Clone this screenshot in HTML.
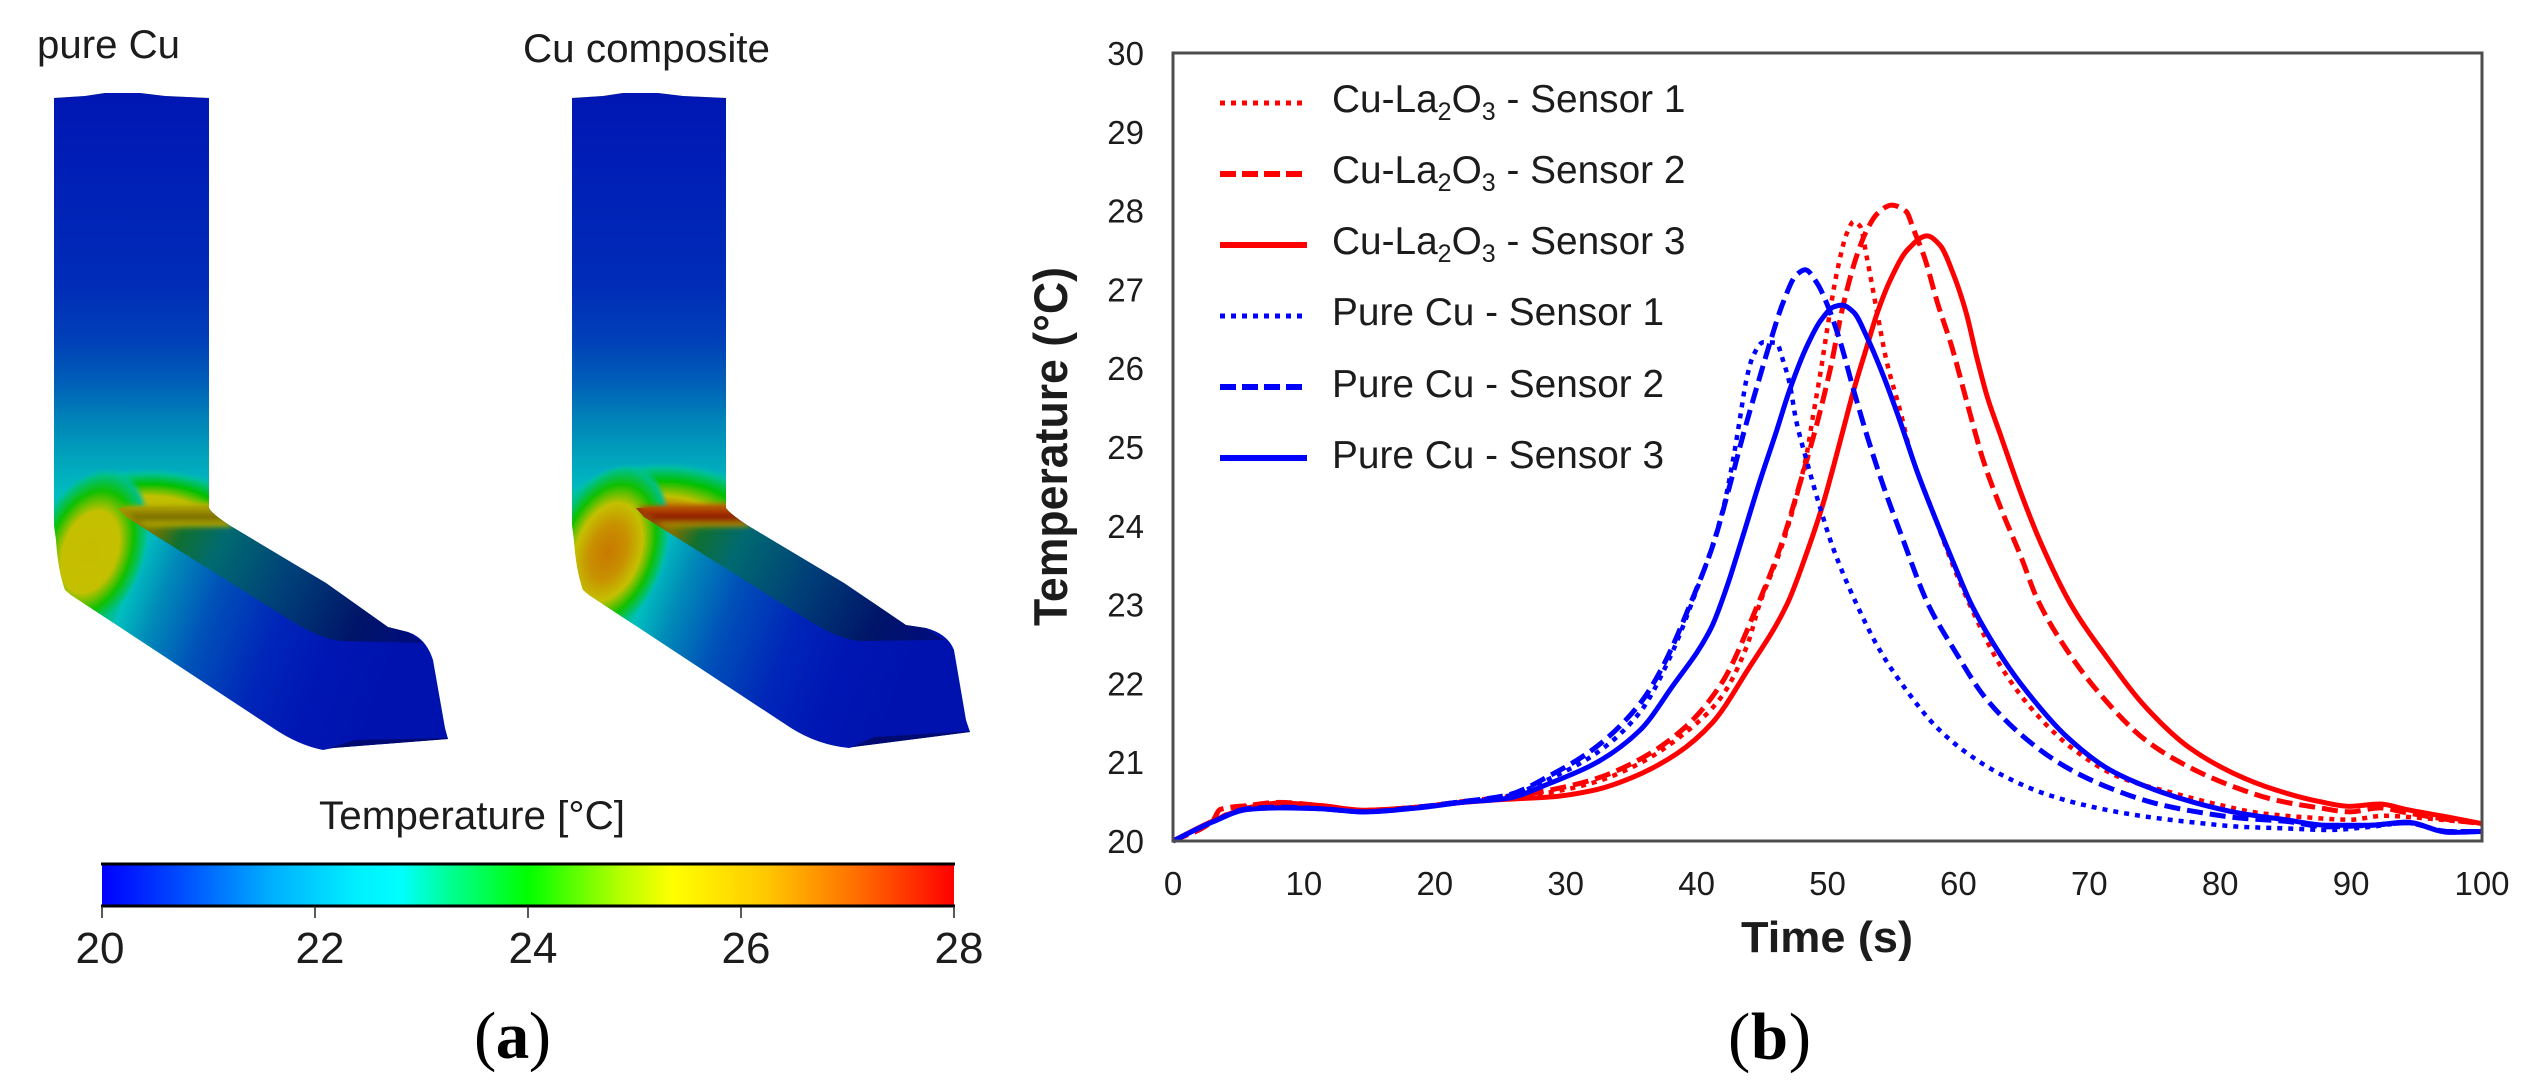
<!DOCTYPE html>
<html lang="en">
<head>
<meta charset="utf-8">
<title>Temperature distribution and sensor curves</title>
<style>
html,body{margin:0;padding:0;background:#fff;}
svg{display:block;}
text{font-family:"Liberation Sans",sans-serif;fill:#1c1c1c;}
.serif{font-family:"Liberation Serif",serif;fill:#000;}
</style>
</head>
<body>
<svg id="figure" xmlns="http://www.w3.org/2000/svg" width="2531" height="1091" viewBox="0 0 2531 1091">
<defs>
  <filter id="soft" x="-10%" y="-30%" width="120%" height="160%"><feGaussianBlur stdDeviation="2"/></filter>
  <linearGradient id="colGrad" gradientUnits="userSpaceOnUse" x1="0" y1="93" x2="0" y2="520">
    <stop offset="0" stop-color="#0016b4"/>
    <stop offset="0.45" stop-color="#002cb8"/>
    <stop offset="0.58" stop-color="#0040b8"/>
    <stop offset="0.68" stop-color="#0060b8"/>
    <stop offset="0.77" stop-color="#0085b8"/>
    <stop offset="0.86" stop-color="#00a5bc"/>
    <stop offset="0.94" stop-color="#00bcc0"/>
    <stop offset="1" stop-color="#00c0a8"/>
  </linearGradient>
  <linearGradient id="armGrad" gradientUnits="userSpaceOnUse" x1="85" y1="555" x2="392" y2="667">
    <stop offset="0" stop-color="#c8c000"/>
    <stop offset="0.06" stop-color="#40c000"/>
    <stop offset="0.11" stop-color="#00c040"/>
    <stop offset="0.16" stop-color="#00bfbf"/>
    <stop offset="0.26" stop-color="#008cb8"/>
    <stop offset="0.42" stop-color="#0050b8"/>
    <stop offset="0.62" stop-color="#0026b8"/>
    <stop offset="0.8" stop-color="#0016b4"/>
    <stop offset="1" stop-color="#0012ae"/>
  </linearGradient>
  <radialGradient id="elbowA" cx="0.5" cy="0.5" r="0.5">
    <stop offset="0" stop-color="#c8bc00"/>
    <stop offset="0.48" stop-color="#c4c000"/>
    <stop offset="0.72" stop-color="#10c000"/>
    <stop offset="0.9" stop-color="#00c080"/>
    <stop offset="1" stop-color="#00c0b8" stop-opacity="0"/>
  </radialGradient>
  <radialGradient id="elbowB" cx="0.5" cy="0.5" r="0.5">
    <stop offset="0" stop-color="#c87800"/>
    <stop offset="0.3" stop-color="#c89000"/>
    <stop offset="0.55" stop-color="#c4c000"/>
    <stop offset="0.76" stop-color="#10c000"/>
    <stop offset="0.92" stop-color="#00c080"/>
    <stop offset="1" stop-color="#00c0b8" stop-opacity="0"/>
  </radialGradient>
  <radialGradient id="domeA" cx="0.5" cy="0.5" r="0.5">
    <stop offset="0" stop-color="#c8b000"/>
    <stop offset="0.55" stop-color="#c0c000"/>
    <stop offset="0.74" stop-color="#00c000"/>
    <stop offset="0.9" stop-color="#00c090"/>
    <stop offset="1" stop-color="#00c0b8" stop-opacity="0"/>
  </radialGradient>
  <radialGradient id="domeB" cx="0.5" cy="0.5" r="0.5">
    <stop offset="0" stop-color="#b02000"/>
    <stop offset="0.28" stop-color="#c06000"/>
    <stop offset="0.5" stop-color="#c0c000"/>
    <stop offset="0.72" stop-color="#00c000"/>
    <stop offset="0.9" stop-color="#00c090"/>
    <stop offset="1" stop-color="#00c0b8" stop-opacity="0"/>
  </radialGradient>
  <linearGradient id="ridgeA" x1="0" y1="0" x2="0" y2="1">
    <stop offset="0" stop-color="#c0bc00"/>
    <stop offset="0.35" stop-color="#948400"/>
    <stop offset="0.55" stop-color="#7a6c00"/>
    <stop offset="0.8" stop-color="#b0a800"/>
    <stop offset="1" stop-color="#809000" stop-opacity="0"/>
  </linearGradient>
  <linearGradient id="ridgeB" x1="0" y1="0" x2="0" y2="1">
    <stop offset="0" stop-color="#c07800"/>
    <stop offset="0.35" stop-color="#a83000"/>
    <stop offset="0.55" stop-color="#8a1c00"/>
    <stop offset="0.8" stop-color="#a88800"/>
    <stop offset="1" stop-color="#809000" stop-opacity="0"/>
  </linearGradient>
  <linearGradient id="topA" gradientUnits="userSpaceOnUse" x1="125" y1="500" x2="420" y2="650">
    <stop offset="0" stop-color="#a89000"/>
    <stop offset="0.12" stop-color="#707400"/>
    <stop offset="0.2" stop-color="#107030"/>
    <stop offset="0.32" stop-color="#006a70"/>
    <stop offset="0.55" stop-color="#003f78"/>
    <stop offset="0.8" stop-color="#001468"/>
    <stop offset="1" stop-color="#000c80"/>
  </linearGradient>
  <linearGradient id="topB" gradientUnits="userSpaceOnUse" x1="125" y1="500" x2="420" y2="650">
    <stop offset="0" stop-color="#a03000"/>
    <stop offset="0.12" stop-color="#807000"/>
    <stop offset="0.2" stop-color="#107030"/>
    <stop offset="0.32" stop-color="#006a70"/>
    <stop offset="0.55" stop-color="#003f78"/>
    <stop offset="0.8" stop-color="#001468"/>
    <stop offset="1" stop-color="#000c80"/>
  </linearGradient>
  <linearGradient id="barGrad" x1="0" y1="0" x2="1" y2="0">
    <stop offset="0" stop-color="#0000ff"/>
    <stop offset="0.08" stop-color="#0040ff"/>
    <stop offset="0.2" stop-color="#00b0ff"/>
    <stop offset="0.3" stop-color="#00f0ff"/>
    <stop offset="0.35" stop-color="#00ffff"/>
    <stop offset="0.41" stop-color="#00ff90"/>
    <stop offset="0.5" stop-color="#00ff00"/>
    <stop offset="0.61" stop-color="#b8ff00"/>
    <stop offset="0.67" stop-color="#ffff00"/>
    <stop offset="0.78" stop-color="#ffc800"/>
    <stop offset="0.89" stop-color="#ff6a00"/>
    <stop offset="1" stop-color="#ff0000"/>
  </linearGradient>
  <clipPath id="colClip"><rect x="54" y="90" width="156" height="430"/></clipPath>
  <clipPath id="shapeClip"><path d="M54 98 L85 96 L105 93 L140 93 L165 96 L209 98 L209 508 Q211 513 229 525 L326 583 L388 627 L408 632 Q426 638 433 660 L445 728 L448 739 L333 748 L323 750 Q298 745 273 728 L71 595 L65 590 Q58 570 56 540 L54 525 Z"/></clipPath>
  <clipPath id="shapeClipB"><path d="M54 98 L85 96 L105 93 L140 93 L165 96 L208 98 L208 508 Q211 513 229 525 L326 583 L388 625 L408 628 Q430 634 436 650 L448 720 L452 732 L335 747 L331 748 Q300 745 273 728 L71 595 L65 590 Q58 570 56 540 L54 525 Z"/></clipPath>
</defs>

<g id="panel-a">
  <text x="37" y="58" font-size="40" textLength="143" lengthAdjust="spacingAndGlyphs">pure Cu</text>
  <text x="523" y="62" font-size="40" textLength="247" lengthAdjust="spacingAndGlyphs">Cu composite</text>

  <g clip-path="url(#shapeClip)">
    <rect x="40" y="85" width="430" height="680" fill="url(#armGrad)"/>
    <rect x="54" y="90" width="156" height="430" fill="url(#colGrad)"/>
    <ellipse cx="150" cy="530" rx="112" ry="62" fill="url(#domeA)" clip-path="url(#colClip)"/>
    <ellipse cx="90" cy="552" rx="56" ry="88" transform="rotate(20 90 552)" fill="url(#elbowA)"/>
    <path d="M118 508 L209 506 L229 525 L326 583 L388 627 L408 632 L424 643 L340 641 Q318 638 290 620 L126 517 Z" fill="url(#topA)"/>
    <path d="M120 506 L209 503 L234 528 L150 530 Z" fill="url(#ridgeA)" filter="url(#soft)"/>
    <path d="M330 748 L355 740 L450 738 L440 752 L330 752 Z" fill="#000a70"/>
  </g>

  <g transform="translate(518 0)" clip-path="url(#shapeClipB)">
    <rect x="40" y="85" width="430" height="680" fill="url(#armGrad)"/>
    <rect x="54" y="90" width="156" height="430" fill="url(#colGrad)"/>
    <ellipse cx="145" cy="530" rx="118" ry="68" fill="url(#domeB)" clip-path="url(#colClip)"/>
    <ellipse cx="90" cy="552" rx="58" ry="92" transform="rotate(20 90 552)" fill="url(#elbowB)"/>
    <path d="M118 508 L209 506 L229 525 L326 583 L388 625 L408 628 L426 640 L340 641 Q318 638 290 620 L126 517 Z" fill="url(#topB)"/>
    <path d="M120 506 L209 503 L234 528 L150 530 Z" fill="url(#ridgeB)" filter="url(#soft)"/>
    <path d="M332 748 L356 737 L456 731 L440 752 L332 752 Z" fill="#000a70"/>
  </g>

  <text x="319" y="829" font-size="40" textLength="306" lengthAdjust="spacingAndGlyphs">Temperature [°C]</text>
  <rect x="102" y="864" width="852" height="42" fill="url(#barGrad)"/>
  <line x1="101" y1="864" x2="955" y2="864" stroke="#000" stroke-width="3"/>
  <line x1="101" y1="906" x2="955" y2="906" stroke="#000" stroke-width="3"/>
  <g id="colorbar-ticks"></g>
  <text class="serif" x="474" y="1058" font-size="67" textLength="77">(<tspan font-weight="bold">a</tspan>)</text>
</g>

<g id="panel-b">
  <g id="y-ticks"></g>
  <g id="x-ticks"></g>
  <text transform="translate(1067 626) rotate(-90)" font-size="47" font-weight="bold" textLength="359" lengthAdjust="spacingAndGlyphs">Temperature (°C)</text>
  <text x="1741" y="952" font-size="44" font-weight="bold" textLength="172" lengthAdjust="spacingAndGlyphs">Time (s)</text>
  <g id="series"></g>
  <rect x="1173" y="53" width="1309" height="788" fill="none" stroke="#4d4d4d" stroke-width="3"/>
  <g id="legend">
    <g>
      <line x1="1220" y1="103" x2="1303" y2="103" stroke="#ff0000" stroke-width="5" stroke-dasharray="5 6"/>
      <text x="1332" y="112" font-size="38.8">Cu-La<tspan dy="8" font-size="25">2</tspan><tspan dy="-8">O</tspan><tspan dy="8" font-size="25">3</tspan><tspan dy="-8"> - Sensor 1</tspan></text>
    </g>
    <g>
      <line x1="1220" y1="174" x2="1303" y2="174" stroke="#ff0000" stroke-width="6" stroke-dasharray="16 6"/>
      <text x="1332" y="183" font-size="38.8">Cu-La<tspan dy="8" font-size="25">2</tspan><tspan dy="-8">O</tspan><tspan dy="8" font-size="25">3</tspan><tspan dy="-8"> - Sensor 2</tspan></text>
    </g>
    <g>
      <line x1="1220" y1="245" x2="1307" y2="245" stroke="#ff0000" stroke-width="6"/>
      <text x="1332" y="254" font-size="38.8">Cu-La<tspan dy="8" font-size="25">2</tspan><tspan dy="-8">O</tspan><tspan dy="8" font-size="25">3</tspan><tspan dy="-8"> - Sensor 3</tspan></text>
    </g>
    <g>
      <line x1="1220" y1="316" x2="1303" y2="316" stroke="#0000ff" stroke-width="5" stroke-dasharray="5 6"/>
      <text x="1332" y="325" font-size="38.8">Pure Cu - Sensor 1</text>
    </g>
    <g>
      <line x1="1220" y1="387" x2="1303" y2="387" stroke="#0000ff" stroke-width="6" stroke-dasharray="16 6"/>
      <text x="1332" y="397" font-size="38.8">Pure Cu - Sensor 2</text>
    </g>
    <g>
      <line x1="1220" y1="458" x2="1307" y2="458" stroke="#0000ff" stroke-width="6"/>
      <text x="1332" y="468" font-size="38.8">Pure Cu - Sensor 3</text>
    </g>
  </g>
  <text class="serif" x="1728" y="1059" font-size="67" textLength="83">(<tspan font-weight="bold">b</tspan>)</text>
</g>
</svg>

<script>
var xTickLabels = [0,10,20,30,40,50,60,70,80,90,100];
var yTickLabels = [20,21,22,23,24,25,26,27,28,29,30];
var colorbarTicks = [20,22,24,26,28];

var timeCu1 = [0,3,5.7,8.1,11.2,14.6,18.7,22.1,25.5,28.9,32.3,35.7,39.1,41.9,43.9,44.8,46.4,47.6,48.4,48.9,49.5,50,50.7,51.5,52,52.5,53,53.8,54.5,55.6,56.3,58,59.7,61,63.3,65.9,68.9,72.3,76.6,79.9,83.2,86.6,89.9,92.5,94.8,98.2,100];
var tempCu1 = [20,20.25,20.44,20.48,20.45,20.39,20.43,20.5,20.55,20.62,20.75,20.99,21.37,21.83,22.5,23.0,23.69,24.35,24.9,25.4,25.98,26.52,27.2,27.72,27.86,27.8,27.41,26.7,26.1,25.43,24.96,24.2,23.45,22.95,22.2,21.62,21.15,20.81,20.6,20.46,20.35,20.3,20.27,20.32,20.3,20.25,20.23];

var timeCu2 = [0,3,3.6,5.7,8.1,11.2,14.6,18.7,22.1,25.5,28.9,32.3,35.7,39.1,41.9,44.8,46.4,47.9,49.2,50.2,51.2,52.2,53,53.8,54.9,56,56.6,57.4,58.4,59.5,60.6,61.9,63.2,64.8,66,68.3,71,74.3,77.6,81,84.2,87.6,89.9,92.2,94.2,97.5,100];
var tempCu2 = [20,20.25,20.4,20.45,20.49,20.45,20.39,20.43,20.5,20.56,20.65,20.79,21.04,21.44,22.0,23.05,23.73,24.54,25.3,25.98,26.8,27.41,27.75,27.96,28.07,27.99,27.75,27.41,26.83,26.27,25.6,24.83,24.24,23.6,23.08,22.42,21.83,21.28,20.94,20.69,20.52,20.42,20.37,20.42,20.36,20.27,20.22];

var timeCu3 = [0,3,5.7,8.1,11.2,14.6,18.7,22.1,25.5,28.9,32.3,35,38.5,41.2,43.9,46.9,48.4,49.7,50.5,51.2,52,53,53.8,54.8,56.1,57.6,58.6,59.6,60.6,61.4,62.2,63.2,64.7,66.2,68.6,71.3,74.3,77.6,81,84.2,87.6,89.9,92.2,94.2,97.5,100];
var tempCu3 = [20,20.25,20.42,20.48,20.45,20.39,20.43,20.49,20.53,20.56,20.65,20.8,21.11,21.5,22.17,23.0,23.65,24.3,24.78,25.22,25.72,26.27,26.7,27.12,27.5,27.68,27.56,27.2,26.7,26.14,25.64,25.16,24.45,23.82,23.0,22.34,21.7,21.19,20.86,20.65,20.5,20.44,20.47,20.4,20.3,20.22];

var timePure1 = [0,3,5.7,8.1,11.2,14.6,18.7,22.1,25.5,28.9,32.3,35.7,37.8,39.7,42,42.8,43.3,43.8,44.3,45.1,46.1,46.6,47.1,47.6,48.4,49.4,50.4,52.1,54,56,58.3,60.7,63.3,66.6,70.3,74.3,78.3,81.6,85,88.2,91.5,94.2,97.5,100];
var tempPure1 = [20,20.24,20.4,20.42,20.41,20.37,20.42,20.5,20.57,20.8,21.11,21.64,22.27,23.05,24.2,24.85,25.35,25.85,26.15,26.33,26.32,26.1,25.81,25.34,24.83,24.25,23.73,23.05,22.42,21.92,21.45,21.11,20.84,20.6,20.43,20.31,20.23,20.18,20.16,20.14,20.18,20.23,20.12,20.12];

var timePure2 = [0,3,5.7,8.1,11.2,14.6,18.7,22.1,25.5,28.9,32.3,35.7,37.4,39.7,41.3,42.5,43.6,44.6,45.6,46.6,47.6,48.3,49.2,50,51,52,53.1,54.3,55.6,57.7,59.7,62,65,68.3,71.6,75,78.2,81.6,85,88.2,91.5,94.2,97.5,100];
var tempPure2 = [20,20.24,20.41,20.43,20.41,20.37,20.43,20.5,20.58,20.84,21.19,21.75,22.21,23.08,23.78,24.49,25.18,25.76,26.32,26.83,27.18,27.25,27.08,26.8,26.32,25.72,25.1,24.49,23.9,23,22.42,21.83,21.32,20.93,20.67,20.48,20.37,20.29,20.25,20.18,20.2,20.23,20.12,20.12];

var timePure3 = [0,3,5.7,8.1,11.2,14.6,18.7,22.1,25.5,28.9,32.3,35.7,38.1,41.1,42.3,43.5,44.8,46.1,47.1,48.4,49.5,50.5,51.1,52,53,54.3,55.6,56.8,58.1,59.7,61,63.3,65.3,68.3,71.6,75,78.2,81.6,85,88.2,91.5,94.2,97.5,100];
var tempPure3 = [20,20.24,20.4,20.42,20.41,20.37,20.42,20.49,20.54,20.74,20.99,21.41,21.95,22.7,23.22,23.85,24.55,25.2,25.72,26.27,26.61,26.78,26.8,26.71,26.4,25.89,25.3,24.71,24.15,23.5,23.0,22.34,21.88,21.32,20.9,20.65,20.48,20.35,20.27,20.2,20.2,20.24,20.11,20.12];

var seriesList = [
  {key:'cu-sensor-1', t:timeCu1, v:tempCu1, color:'#ff0000', width:4.5, dash:'5 6'},
  {key:'cu-sensor-2', t:timeCu2, v:tempCu2, color:'#ff0000', width:5, dash:'16 7'},
  {key:'cu-sensor-3', t:timeCu3, v:tempCu3, color:'#ff0000', width:5, dash:null},
  {key:'pure-sensor-1', t:timePure1, v:tempPure1, color:'#0000ff', width:4.5, dash:'5 6'},
  {key:'pure-sensor-2', t:timePure2, v:tempPure2, color:'#0000ff', width:5, dash:'16 7'},
  {key:'pure-sensor-3', t:timePure3, v:tempPure3, color:'#0000ff', width:5, dash:null}
];

var SVGNS = 'http://www.w3.org/2000/svg';
function xScale(t){ return 1173 + (t - 0) * (2482 - 1173) / 100; }
function yScale(T){ return 841 - (T - 20) * (841 - 53) / 10; }
function barScale(T){ return 102 + (T - 20) * (954 - 102) / 8; }

function monotonePath(xs, ys){
  var n = xs.length, m = [], d = [], i;
  for(i = 0; i < n - 1; i++){ d[i] = (ys[i+1] - ys[i]) / (xs[i+1] - xs[i]); }
  m[0] = d[0]; m[n-1] = d[n-2];
  for(i = 1; i < n - 1; i++){
    if(d[i-1] * d[i] <= 0){ m[i] = 0; }
    else {
      var h0 = xs[i] - xs[i-1], h1 = xs[i+1] - xs[i];
      m[i] = 3 * (h0 + h1) / ((2 * h1 + h0) / d[i-1] + (h1 + 2 * h0) / d[i]);
    }
  }
  var p = 'M' + xs[0].toFixed(2) + ' ' + ys[0].toFixed(2);
  for(i = 0; i < n - 1; i++){
    var h = (xs[i+1] - xs[i]) / 3;
    p += 'C' + (xs[i] + h).toFixed(2) + ' ' + (ys[i] + m[i] * h).toFixed(2) + ' ' +
         (xs[i+1] - h).toFixed(2) + ' ' + (ys[i+1] - m[i+1] * h).toFixed(2) + ' ' +
         xs[i+1].toFixed(2) + ' ' + ys[i+1].toFixed(2);
  }
  return p;
}

var yGroup = document.getElementById('y-ticks');
yTickLabels.forEach(function(v){
  var el = document.createElementNS(SVGNS, 'text');
  
  
  el.setAttribute('x', 1144);
  el.setAttribute('y', yScale(v) + 12);
  el.setAttribute('text-anchor', 'end');
  el.setAttribute('font-size', 33);
  el.textContent = v;
  yGroup.appendChild(el);
});

var xGroup = document.getElementById('x-ticks');
xTickLabels.forEach(function(v){
  var el = document.createElementNS(SVGNS, 'text');
  
  
  el.setAttribute('x', xScale(v));
  el.setAttribute('y', 895);
  el.setAttribute('text-anchor', 'middle');
  el.setAttribute('font-size', 33);
  el.textContent = v;
  xGroup.appendChild(el);
});

var cbGroup = document.getElementById('colorbar-ticks');
colorbarTicks.forEach(function(v, i){
  var tick = document.createElementNS(SVGNS, 'line');
  
  
  tick.setAttribute('x1', barScale(v));
  tick.setAttribute('x2', barScale(v));
  tick.setAttribute('y1', 906);
  tick.setAttribute('y2', 918);
  tick.setAttribute('stroke', '#222');
  tick.setAttribute('stroke-width', 1.5);
  cbGroup.appendChild(tick);
  var lab = document.createElementNS(SVGNS, 'text');
  
  
  lab.setAttribute('x', barScale(v) + (i === 0 ? -2 : 5));
  lab.setAttribute('y', 963);
  lab.setAttribute('text-anchor', 'middle');
  lab.setAttribute('font-size', 44);
  lab.textContent = v;
  cbGroup.appendChild(lab);
});

var sGroup = document.getElementById('series');
seriesList.forEach(function(s){
  var path = document.createElementNS(SVGNS, 'path');
  
  
  path.setAttribute('d', monotonePath(s.t.map(xScale), s.v.map(yScale)));
  path.setAttribute('fill', 'none');
  path.setAttribute('stroke', s.color);
  path.setAttribute('stroke-width', s.width);
  if(s.dash){ path.setAttribute('stroke-dasharray', s.dash); }
  sGroup.appendChild(path);
});
</script>
</body>
</html>
